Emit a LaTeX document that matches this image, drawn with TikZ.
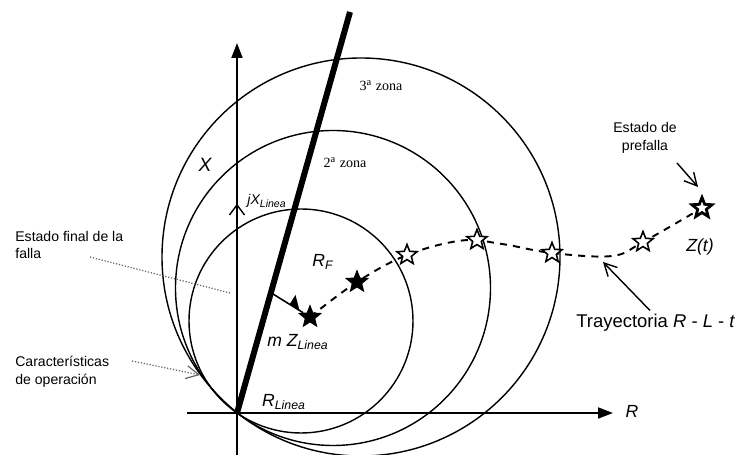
\documentclass[tikz,border=0pt]{standalone}
\usepackage{fontspec}
\setmainfont{Liberation Sans}
\newfontfamily\zonefont{Liberation Serif}
\usetikzlibrary{arrows.meta,shapes.geometric,calc}

\begin{document}
\begin{tikzpicture}[
axis/.style={-{Triangle[length=3mm,width=2.2mm]},line width=1pt},
zone/.style={line width=0.8pt},
linea/.style={line width=3.4pt},
traj/.style={line width=1.1pt,dash pattern=on 4pt off 3.5pt},
emptystar/.style={star,star points=5,star point ratio=2.3,draw,line width=0.9pt,fill=white,minimum size=4.2mm,inner sep=0pt},
fullstar/.style={emptystar,fill=black},
note/.style={-{Straight Barb[length=2.5mm,width=2.6mm]},line width=0.8pt},
guide/.style={line width=0.7pt,densely dotted,black!60},
txt/.style={font=\fontsize{8}{10}\selectfont,align=left,inner sep=0pt},
zonetxt/.style={font=\zonefont\fontsize{8}{10}\selectfont},
var/.style={font=\fontsize{10}{12}\selectfont\itshape,inner sep=1pt}]
\useasboundingbox (-4.74,-0.84) rectangle (10.18,8.26);
% ejes
\coordinate (O) at (0,0);
\coordinate (Rleft) at (-1.0,0);
\coordinate (Rend) at (7.52,0);
\coordinate (Xbot) at (0,-0.84);
\coordinate (Xend) at (0,7.4);
\draw[axis] (Rleft) -- (Rend);
\draw[axis] (Xbot) -- (Xend);
\coordinate (jx) at (0,4.16);
\draw[line width=0.8pt] ($(jx)+(-0.15,-0.2)$) -- (jx) -- ($(jx)+(0.15,-0.2)$);
% zonas
\coordinate (z1) at (1.28,1.84);
\coordinate (z2) at (1.92,2.50);
\coordinate (z3) at (2.48,3.12);
\draw[zone] (z1) circle (2.24);
\draw[zone] (z2) circle (3.15);
\draw[zone] (z3) circle (3.98);
% linea
\coordinate (Ltop) at (2.26,8.02);
\draw[linea] (O) -- (Ltop);
% trayectoria
\draw[traj] plot[smooth,tension=0.6] coordinates {(1.46,1.92) (2.4,2.62) (3.4,3.16) (4.5,3.45) (5.3,3.38) (6.3,3.2) (7.5,3.14) (8.12,3.42) (9.3,4.1)};
\node[fullstar]  (s0) at (1.46,1.92) {};
\node[fullstar]  (s1) at (2.4,2.62) {};
\node[emptystar] (s2) at (3.4,3.16) {};
\node[emptystar] (s3) at (4.8,3.46) {};
\node[emptystar] (s4) at (6.3,3.2) {};
\node[emptystar] (s5) at (8.12,3.42) {};
\node[emptystar,line width=1.6pt] (s6) at (9.3,4.1) {};
% resistencia de falla
\coordinate (Fm) at ($(O)!0.3!(Ltop)$);
\draw[line width=0.9pt] (Fm) -- (s0);
\fill (1.05,2.17) -- (1.17,2.36) -- (1.25,2.05) -- cycle;
% textos
\node[zonetxt] (t3) at (2.88,6.54) {3\textsuperscript{a} zona};
\node[zonetxt] (t2) at (2.16,5.0) {2\textsuperscript{a} zona};
\node[var,font=\fontsize{11}{12}\selectfont\itshape] (xlab) at (-0.64,4.96) {X};
\node[var,font=\fontsize{8}{10}\selectfont\itshape] (jxlab) at (0.6,4.24) {jX\textsubscript{Linea}};
\node[var] (rf) at (1.72,3.02) {R\textsubscript{F}};
\node[var] (mz) at (1.22,1.42) {m Z\textsubscript{Linea}};
\node[var] (rl) at (0.94,0.22) {R\textsubscript{Linea}};
\node[var] (rlab) at (7.9,0.04) {R};
\node[var] (zt) at (9.26,3.32) {Z(t)};
\node[txt,anchor=west] (finaltxt) at (-4.44,3.36) {Estado final de la\\falla};
\node[txt,anchor=west] (opertxt) at (-4.44,0.82) {Características\\de operación};
\node[txt,align=center] (pretxt) at (8.16,5.5) {Estado de\\prefalla};
\node[anchor=west,inner sep=0pt,font=\fontsize{10.5}{12}\selectfont] (traytxt) at (6.78,1.8) {Trayectoria {\itshape R} - {\itshape L} - {\itshape t}};
% flechas
\coordinate (f1) at (-2.94,3.12);
\coordinate (g1) at (-0.14,2.4);
\draw[guide] (f1) -- (g1);
\coordinate (c1) at (-2.1,1.04);
\coordinate (c2) at (-0.74,0.76);
\draw[guide,-{Straight Barb[length=2.5mm,width=2.6mm]}] (c1) -- (c2);
\coordinate (pretail) at (8.8,5.0);
\coordinate (pretip) at (9.22,4.52);
\draw[note] (pretail) -- (pretip);
\coordinate (trytail) at (8.26,2.05);
\coordinate (trytip) at (7.32,3.02);
\draw[note] (trytail) -- (trytip);
\end{tikzpicture}
\end{document}
